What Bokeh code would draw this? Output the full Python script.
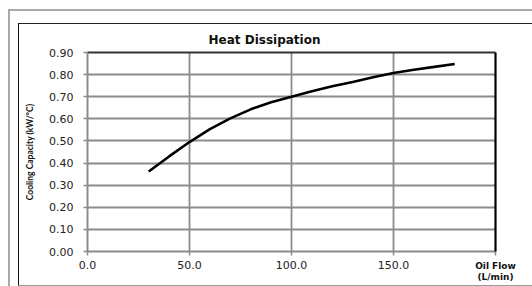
from bokeh.plotting import figure
from bokeh.models import Range1d, FixedTicker, LinearAxis, InlineStyleSheet
from bokeh.embed import file_html
from bokeh.resources import INLINE

flow = [30, 40, 50, 60, 70, 80, 90, 100, 110, 120, 130, 140, 150, 160, 170, 180]
capacity = [0.362, 0.43, 0.495, 0.553, 0.602, 0.643, 0.675, 0.70, 0.725, 0.747,
            0.767, 0.788, 0.807, 0.822, 0.835, 0.848]
x_ticks = [0, 50, 100, 150, 200]
y_ticks = [0.0, 0.1, 0.2, 0.3, 0.4, 0.5, 0.6, 0.7, 0.8, 0.9]
title_text = "Heat Dissipation"
y_label = "Cooling Capacity (kW/°C)"
x_label = "Oil Flow\n(L/min)"

W, H = 532, 286
p = figure(width=W, height=H, output_backend="svg", toolbar_location=None,
           x_range=Range1d(0, 200), y_range=Range1d(0, 0.9),
           min_border_left=87, min_border_right=37, min_border_top=52, min_border_bottom=35)
p.background_fill_color = "white"
p.border_fill_color = "white"
p.outline_line_color = None

# page frames (grey outer, black inner) drawn with CSS
css = """
:host { position: relative; }
:host::before {
  content: ""; position: absolute; left: 8px; top: 8.5px; right: 0; bottom: 0;
  border-left: 2.5px solid #a9a9a9; border-top: 2.5px solid #a9a9a9;
  pointer-events: none; z-index: 50;
}
:host::after {
  content: ""; position: absolute; left: 18px; top: 22.5px; right: 0; bottom: 0.5px;
  border-left: 1.5px solid #111; border-top: 1.5px solid #222; border-bottom: 1px solid #999;
  pointer-events: none; z-index: 50;
}
"""
p.stylesheets = [InlineStyleSheet(css=css)]

p.title.text = title_text
p.title.align = "left"
p.title.offset = 121
p.title.standoff = 12
p.title.text_font = "DejaVu Sans"
p.title.text_font_style = "bold"
p.title.text_font_size = "12px"
p.title.text_color = "#111111"

grid_col = "#8c8c8c"
p.xgrid.ticker = FixedTicker(ticks=x_ticks)
p.ygrid.ticker = FixedTicker(ticks=y_ticks)
p.xgrid.grid_line_color = grid_col
p.ygrid.grid_line_color = grid_col
p.xgrid.grid_line_width = 1.8
p.ygrid.grid_line_width = 1.8

for ax in (p.xaxis[0], p.yaxis[0]):
    ax.axis_line_color = grid_col
    ax.axis_line_width = 2
    ax.major_tick_line_color = grid_col
    ax.major_tick_line_width = 1.5
    ax.major_tick_out = 4
    ax.major_tick_in = 0
    ax.minor_tick_line_color = None
    ax.major_label_text_font = "DejaVu Sans"
    ax.major_label_text_font_size = "11px"
    ax.major_label_text_color = "#222222"

p.xaxis[0].ticker = FixedTicker(ticks=x_ticks)
p.xaxis[0].major_label_overrides = {t: ("" if t == 200 else f"{t:.1f}") for t in x_ticks}
p.xaxis[0].major_label_standoff = 5
p.yaxis[0].ticker = FixedTicker(ticks=y_ticks)
p.yaxis[0].major_label_overrides = {t: f"{t:.2f}" for t in y_ticks}
p.yaxis[0].major_label_standoff = 10
p.yaxis[0].axis_label = y_label
p.yaxis[0].axis_label_standoff = 11
p.yaxis[0].axis_label_text_font = "Lato"
p.yaxis[0].axis_label_text_font_style = "bold"
p.yaxis[0].axis_label_text_font_size = "8.5px"
p.yaxis[0].axis_label_text_color = "#111111"

# x-axis title sits at the right end, as a label of its own axis
lab_axis = LinearAxis(ticker=FixedTicker(ticks=[200]), major_label_overrides={200: x_label},
                      axis_line_color=None, major_tick_line_color=None, minor_tick_line_color=None,
                      major_tick_out=0, major_tick_in=0, major_label_standoff=-11,
                      major_label_text_font="DejaVu Sans", major_label_text_font_style="bold",
                      major_label_text_font_size="9px", major_label_text_color="#111111",
                      major_label_text_line_height=1.1)
p.add_layout(lab_axis, "below")

# plot-area border: black right edge, dark top edge
right_edge = LinearAxis(ticker=FixedTicker(ticks=[]), axis_line_color="black", axis_line_width=2.2,
                        major_tick_line_color=None, minor_tick_line_color=None,
                        major_tick_out=0, major_tick_in=0, major_label_text_font_size="0px")
p.add_layout(right_edge, "right")
top_edge = LinearAxis(ticker=FixedTicker(ticks=[]), axis_line_color="#333333", axis_line_width=1.8,
                      major_tick_line_color=None, minor_tick_line_color=None,
                      major_tick_out=0, major_tick_in=0, major_label_text_font_size="0px")
p.add_layout(top_edge, "above")

p.line(flow, capacity, line_color="black", line_width=2.6)

open("out.html", "w").write(file_html(p, INLINE))
